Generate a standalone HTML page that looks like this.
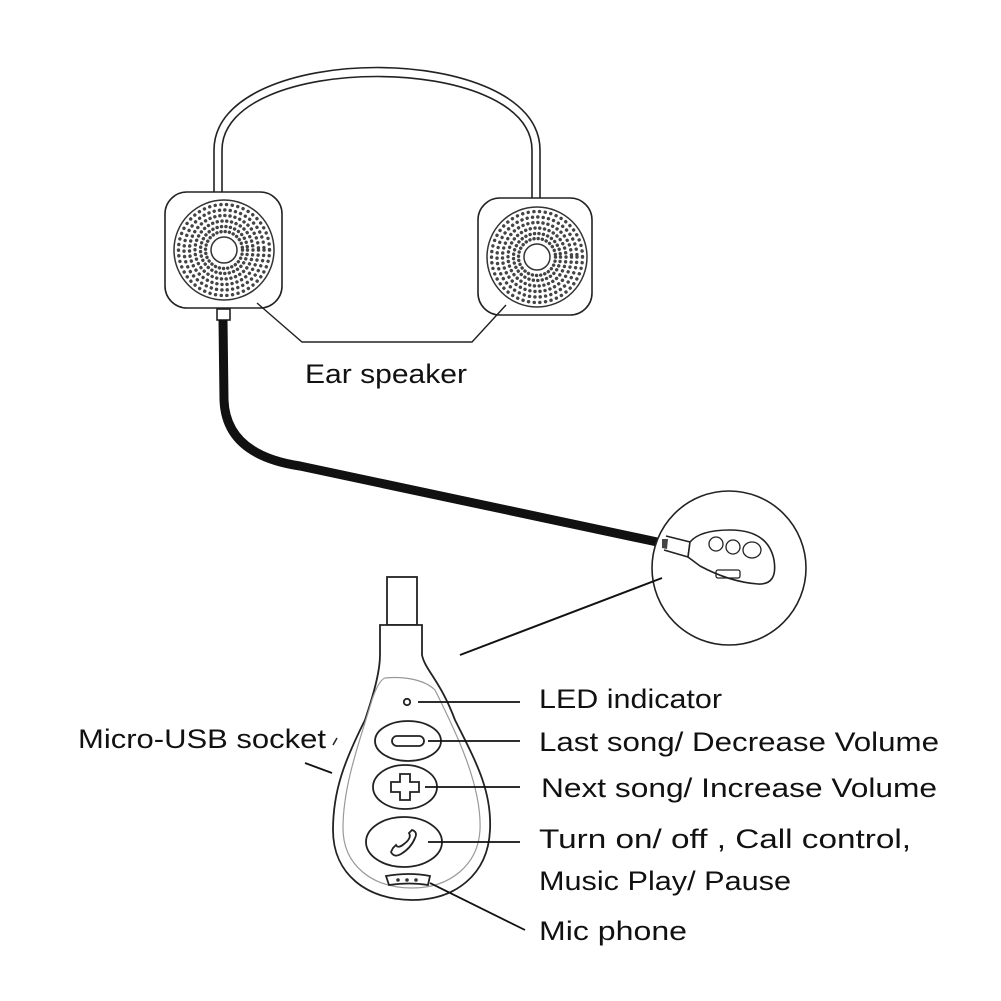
<!DOCTYPE html>
<html><head><meta charset="utf-8"><style>
html,body{margin:0;padding:0;background:#fff}
svg{display:block}
text{font-family:"Liberation Sans",sans-serif;fill:#111}
</style></head><body>
<svg width="1001" height="1001" viewBox="0 0 1001 1001" xmlns="http://www.w3.org/2000/svg">
<defs>
<g id="spk">
 <circle r="50" fill="none" stroke="#333" stroke-width="1.5"/>
 <g fill="none" stroke="#444" stroke-width="3.4" stroke-linecap="round">
  <circle r="45.5" stroke-dasharray="0.1 5.6"/>
  <circle r="40" stroke-dasharray="0.1 5.3"/>
  <circle r="34.5" stroke-dasharray="0.1 5"/>
  <circle r="29" stroke-dasharray="0.1 4.7"/>
  <circle r="23.5" stroke-dasharray="0.1 4.4"/>
  <circle r="18.5" stroke-dasharray="0.1 4.1"/>
 </g>
 <circle r="13" fill="#fff" stroke="#333" stroke-width="1.5"/>
</g>
</defs>
<g fill="none" stroke="#222" stroke-width="1.6">
 <path d="M214,192 L214,150 C214,40 540,40 540,150 L540,198"/>
 <path d="M222,192 L222,150 C222,52 532,52 532,150 L532,198"/>
 <rect x="165" y="192" width="117" height="116" rx="22"/>
 <rect x="478" y="198" width="114" height="117" rx="22"/>
 <path d="M257,303 L302,342 L472,342 L506,305" stroke-width="1.4"/>
 <rect x="217" y="309" width="13" height="11"/>
</g>
<use href="#spk" x="224" y="250"/>
<use href="#spk" x="537" y="257"/>
<path d="M223,320 L224,400 Q226,455 300,466 L662,543" fill="none" stroke="#111" stroke-width="9"/>
<circle cx="729" cy="568" r="77" fill="#fff" stroke="#222" stroke-width="1.6"/>
<g fill="none" stroke="#222" stroke-width="1.3">
 <path d="M666,536 L690,542 L688,557 L664,550" stroke-width="1.5"/>
 <path d="M690,542 Q700,530 730,530 Q768,530 774,560 Q778,585 758,584 Q730,582 700,566 L688,557 Z" fill="#fff" stroke-width="1.6"/>
 <ellipse cx="716" cy="544" rx="7" ry="7"/>
 <ellipse cx="733" cy="547" rx="7" ry="7"/>
 <ellipse cx="752" cy="550" rx="9" ry="8"/>
 <rect x="716" y="570" width="24" height="8" rx="2"/>
 <path d="M460,655 L662,578" stroke="#111" stroke-width="2"/>
</g>
<path d="M662,539 L668,539 L667,549 L662,548 Z" fill="#444"/>
<g fill="none" stroke="#222" stroke-width="1.8">
 <rect x="387" y="577" width="30" height="48"/>
 <path d="M380,625 L422,625 L422,655 C425,670 440,680 455,720 C475,760 492,790 490,830 C488,875 455,900 412,900 C368,900 333,875 333,830 C333,790 345,760 365,720 C375,690 380,670 380,655 Z" fill="#fff"/>
 <path d="M385,678 C405,676 425,680 435,690 C455,730 482,785 480,830 C478,865 450,888 412,888 C372,888 343,865 343,828 C343,785 360,740 372,700 C376,688 380,680 385,678 Z" stroke="#999" stroke-width="1.2"/>
 <circle cx="407" cy="702" r="3.2"/>
 <ellipse cx="408" cy="741" rx="33" ry="20"/>
 <rect x="392" y="736" width="32" height="10" rx="5"/>
 <ellipse cx="405" cy="787" rx="32" ry="22"/>
 <path d="M400,774 h10 v8 h9 v10 h-9 v8 h-10 v-8 h-9 v-10 h9 z"/>
 <ellipse cx="404" cy="842" rx="38" ry="25"/>
 <path d="M391,852 q3,6 10,2 q10,-6 14,-16 q3,-6 -3,-8 l-3,3 q3,5 -5,11 q-6,5 -8,1 l-3,3 z"/>
 <path d="M386,876 Q410,872 430,876 L428,885 Q410,882 389,885 Z"/>
 <path d="M333,745 L337,738" stroke-width="1.5"/>
</g>
<g fill="#333"><circle cx="398" cy="880" r="1.8"/><circle cx="407" cy="880" r="1.8"/><circle cx="416" cy="880" r="1.8"/></g>
<g stroke="#111" stroke-width="1.8" fill="none">
 <path d="M418,702 L520,702"/>
 <path d="M428,741 L520,741"/>
 <path d="M425,787 L520,787"/>
 <path d="M428,842 L520,842"/>
 <path d="M430,883 L525,930"/>
 <path d="M305,763 L332,773"/>
</g>
<g font-size="27">
 <text x="305" y="383" textLength="162" lengthAdjust="spacingAndGlyphs">Ear speaker</text>
 <text x="78" y="748" textLength="248" lengthAdjust="spacingAndGlyphs">Micro-USB socket</text>
 <text x="539" y="708" textLength="183" lengthAdjust="spacingAndGlyphs">LED indicator</text>
 <text x="539" y="751" textLength="400" lengthAdjust="spacingAndGlyphs">Last song/ Decrease Volume</text>
 <text x="541" y="797" textLength="396" lengthAdjust="spacingAndGlyphs">Next song/ Increase Volume</text>
 <text x="539" y="848" textLength="372" lengthAdjust="spacingAndGlyphs">Turn on/ off ,  Call control,</text>
 <text x="539" y="890" textLength="252" lengthAdjust="spacingAndGlyphs">Music Play/ Pause</text>
 <text x="539" y="940" textLength="148" lengthAdjust="spacingAndGlyphs">Mic phone</text>
</g>
</svg>
</body></html>
